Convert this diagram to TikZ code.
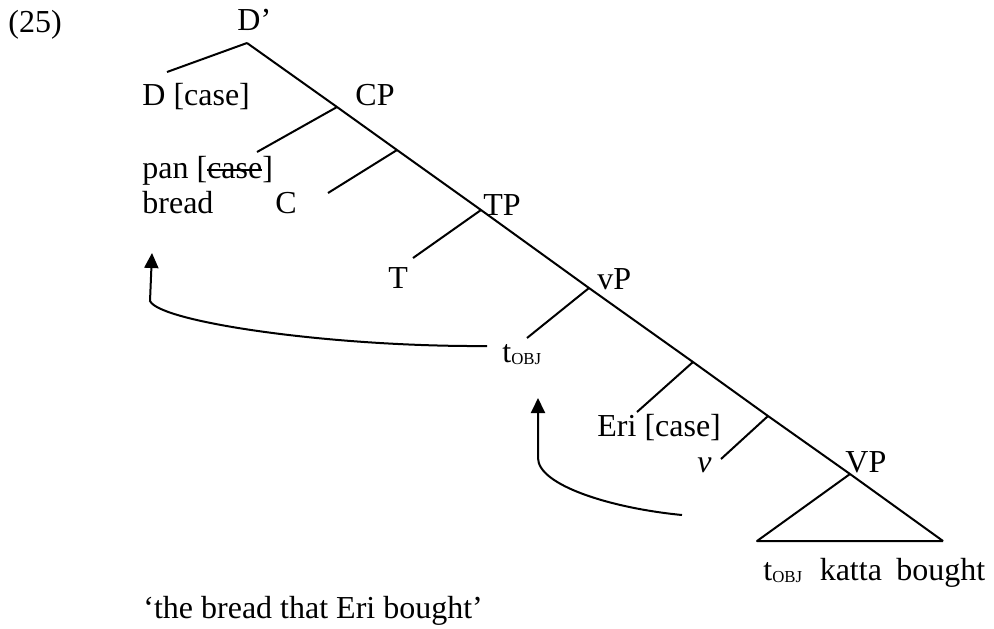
\documentclass[tikz,border=0pt]{standalone}
\usepackage{fontspec}
\setmainfont{Liberation Serif}
\usetikzlibrary{arrows.meta}
\newcommand{\tobj}{t\raisebox{-1.2pt}{\fontsize{8.4pt}{9pt}\selectfont OBJ}}
\newcommand{\strk}[1]{\setbox0\hbox{#1}\rlap{\rule[0.23em]{\wd0}{0.065em}}\box0}
\tikzset{
  lbl/.style={anchor=base west, inner sep=0pt, font=\fontsize{16pt}{19pt}\selectfont},
  branch/.style={line width=1pt, line join=round},
  move/.style={line width=1pt, -{Triangle[length=7.5pt, width=7pt]}},
}

\begin{document}
\begin{tikzpicture}[x=0.5pt, y=-0.5pt]
\useasboundingbox (0,0) rectangle (994,628);

\coordinate (dbar) at (247,43);
\coordinate (cp) at (337,107);
\coordinate (cbar) at (397,150);
\coordinate (tp) at (481,210);
\coordinate (vp) at (589,288);
\coordinate (vbar) at (693,362);
\coordinate (vbarb) at (768,416);
\coordinate (bigvp) at (850,474);
\coordinate (triL) at (757,541);
\coordinate (triR) at (943,541);

\coordinate (dend) at (167,72);
\coordinate (panend) at (257,152);
\coordinate (cend) at (328,193);
\coordinate (tend) at (413,258);
\coordinate (tobjend) at (527,338);
\coordinate (eriend) at (637,412);
\coordinate (vend) at (721,459);

\coordinate (mvAfrom) at (487,346);
\coordinate (mvAbend) at (150,301);
\coordinate (mvAto) at (152,253);
\coordinate (mvBfrom) at (682,515);
\coordinate (mvBbend) at (538,458);
\coordinate (mvBto) at (538,398);

\node[lbl] (exnum) at (8,32) {(25)};
\node[lbl] (dbarlbl) at (237,30) {D’};
\node[lbl] (dhead) at (142,105) {D [case]};
\node[lbl] (cplbl) at (355,105) {CP};
\node[lbl] (pan) at (142,178) {pan [\strk{case}]};
\node[lbl] (bread) at (142,213) {bread};
\node[lbl] (chead) at (275,213) {C};
\node[lbl] (tplbl) at (483,215) {TP};
\node[lbl] (thead) at (388,288) {T};
\node[lbl] (vplbl) at (597,289) {vP};
\node[lbl] (tobj) at (502,362) {\tobj};
\node[lbl] (eri) at (597,436) {Eri [case]};
\node[lbl] (vhead) at (697,472) {\textit{v}};
\node[lbl] (bigvplbl) at (845,472) {VP};
\node[lbl] (vpcontent) at (763,580) {\tobj\hspace{0.55em}katta\hspace{0.45em}bought};
\node[lbl] (gloss) at (143,618) {‘the bread that Eri bought’};

\draw[branch] (dbar) -- (cp) -- (cbar) -- (tp) -- (vp) -- (vbar) -- (vbarb) -- (bigvp) -- (triR);
\draw[branch] (dbar) -- (dend);
\draw[branch] (cp) -- (panend);
\draw[branch] (cbar) -- (cend);
\draw[branch] (tp) -- (tend);
\draw[branch] (vp) -- (tobjend);
\draw[branch] (vbar) -- (eriend);
\draw[branch] (vbarb) -- (vend);
\draw[branch] (triR) -- (triL) -- (bigvp);

\draw[move] (mvAfrom) .. controls (330,347) and (160,322) .. (mvAbend) -- (mvAto);
\draw[move] (mvBfrom) .. controls (610,508) and (538,485) .. (mvBbend) -- (mvBto);
\end{tikzpicture}
\end{document}
